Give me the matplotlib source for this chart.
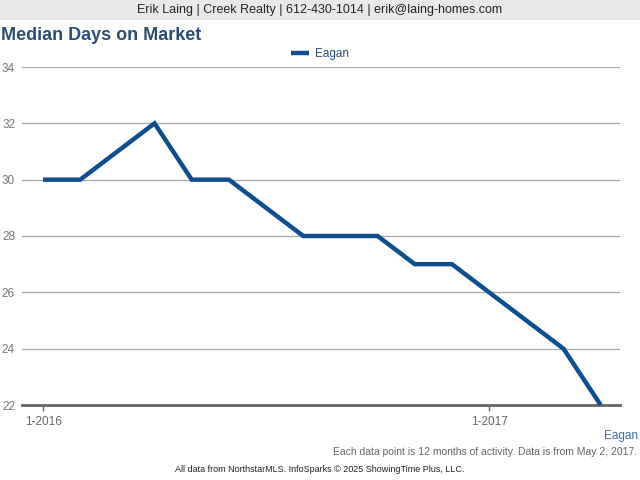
import matplotlib.pyplot as plt
import numpy as np

# ---------------------------
# Data (one point per month, Jan 2016 .. Apr 2017)
# ---------------------------
months = ['1-2016', '2-2016', '3-2016', '4-2016', '5-2016', '6-2016', '7-2016', '8-2016',
          '9-2016', '10-2016', '11-2016', '12-2016', '1-2017', '2-2017', '3-2017', '4-2017']
eagan = [30, 30, 31, 32, 30, 30, 29, 28, 28, 28, 27, 27, 26, 25, 24, 22]
tick_labels = ['1-2016', '1-2017']
y_ticks = [22, 24, 26, 28, 30, 32, 34]

blue = '#0b4f8e'
grey = '#666666'

plt.rcParams['font.family'] = ['Liberation Sans', 'DejaVu Sans']

fig = plt.figure(figsize=(6.4, 4.8), dpi=100)
fig.patch.set_facecolor('white')

# header band
fig.patches.append(plt.Rectangle((0, 1 - 20 / 480), 1, 20 / 480, transform=fig.transFigure,
                                 facecolor='#e9e9e9', edgecolor='none', zorder=0))
fig.text(0.5, 1 - 10 / 480, 'Erik Laing | Creek Realty | 612-430-1014 | erik@laing-homes.com',
         ha='center', va='center', fontsize=9, color='#222222')
fig.text(1 / 640, 1 - 35 / 480, 'Median Days on Market', ha='left', va='center',
         fontsize=13, fontweight='bold', color='#2a4d78')

ax = fig.add_axes([22 / 640, 75 / 480, 598 / 640, 338 / 480])
x = np.arange(len(months))
line, = ax.plot(x, eagan, color=blue, linewidth=3.2, solid_joinstyle='miter',
                solid_capstyle='butt', label='Eagan', clip_on=False, zorder=3)

ax.set_xlim(-0.565, 15.52)
ax.set_ylim(22, 34)
ax.set_yticks(y_ticks)
ax.set_yticklabels([str(v) for v in y_ticks])
ax.yaxis.grid(True, color='#aaaaaa', linewidth=0.9)
ax.set_axisbelow(True)
ax.tick_params(axis='y', length=0, pad=5, labelsize=8.5, labelcolor='#777777')
ax.tick_params(axis='x', length=4, width=1, color=grey, pad=4, labelsize=8.5, labelcolor=grey)
ax.set_xticks([months.index(t) for t in tick_labels])
ax.set_xticklabels(tick_labels)

for s in ['top', 'right', 'left']:
    ax.spines[s].set_visible(False)
ax.spines['bottom'].set_color(grey)
ax.spines['bottom'].set_linewidth(2)
ax.spines['bottom'].set_zorder(2)

leg = fig.legend(handles=[line], loc='center', bbox_to_anchor=(0.5, 1 - 54 / 480),
                 frameon=False, fontsize=8.5, handlelength=1.6, handletextpad=0.5)
for t in leg.get_texts():
    t.set_color('#2a4d78')

fig.text(638 / 640, 1 - 436 / 480, 'Eagan', ha='right', va='center', fontsize=8.5, color='#3b6fa6')
fig.text(637 / 640, 1 - 452 / 480, 'Each data point is 12 months of activity. Data is from May 2, 2017.',
         ha='right', va='center', fontsize=7.5, color=grey)
fig.text(0.5, 1 - 469 / 480, 'All data from NorthstarMLS. InfoSparks \u00a9 2025 ShowingTime Plus, LLC.',
         ha='center', va='center', fontsize=6.5, color='#222222')

fig.savefig('out.png', dpi=100)
